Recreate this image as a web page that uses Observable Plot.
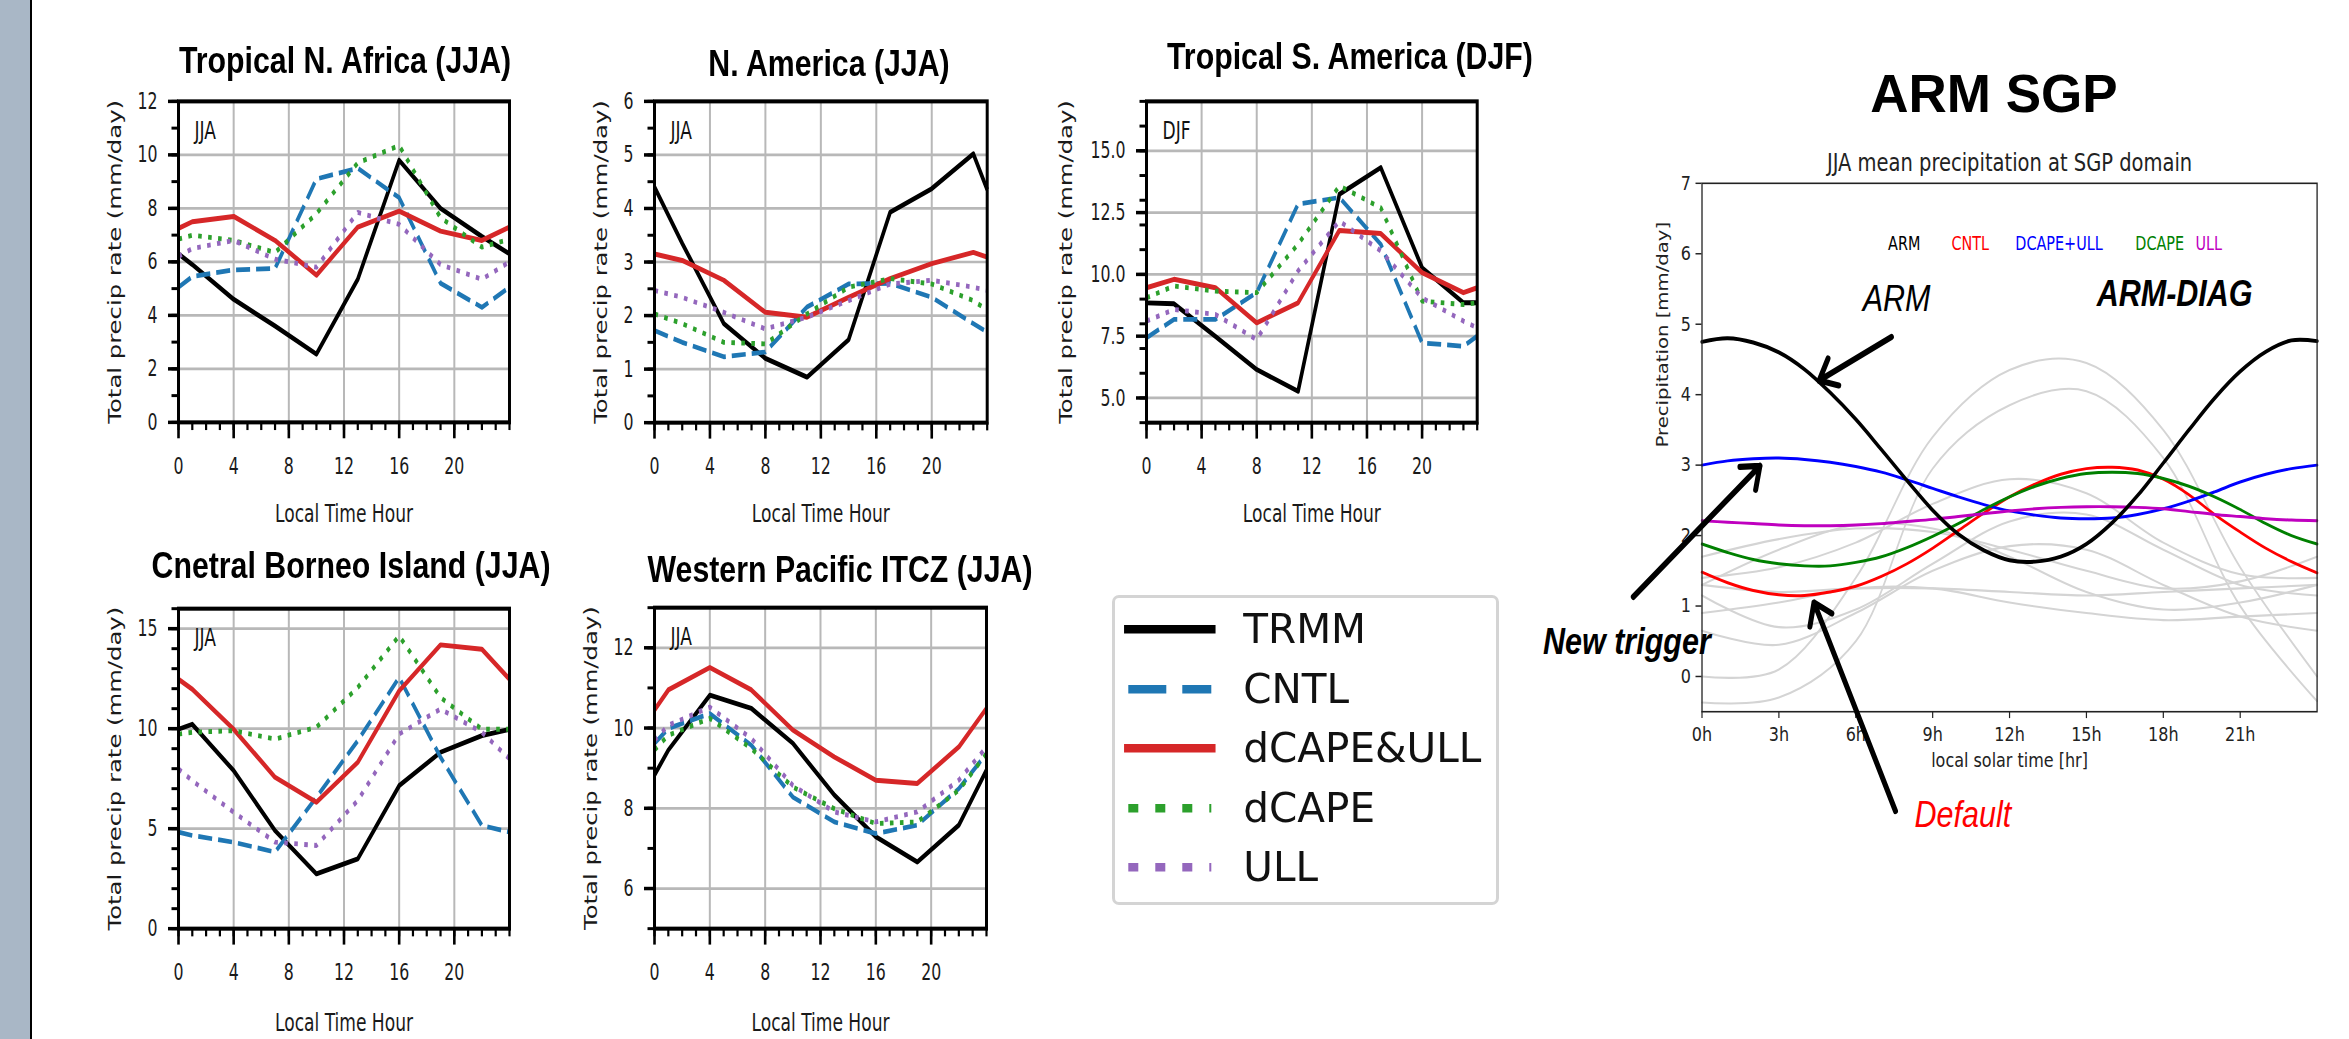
<!DOCTYPE html>
<html><head><meta charset="utf-8">
<script src="https://cdn.jsdelivr.net/npm/d3@7"></script>
<script src="https://cdn.jsdelivr.net/npm/@observablehq/plot@0.6"></script>
<style>
html,body{margin:0;padding:0;background:#fff;}
body{width:2349px;height:1039px;position:relative;overflow:hidden;font-family:"DejaVu Sans",sans-serif;}
.band{position:absolute;left:0;top:0;width:30px;height:1039px;background:#a9b7c6;border-right:2.5px solid #000;}
.title{position:absolute;font-family:"Liberation Sans",Arial,sans-serif;font-weight:bold;white-space:nowrap;color:#000;text-align:center;}
.panel{position:absolute;overflow:visible;}
.panel svg{transform-origin:0 0;}
.legend{position:absolute;background:#fff;border:3px solid #d4d4d4;border-radius:7px;filter:blur(0.5px);}
.legend .lab{position:absolute;font-family:"DejaVu Sans",sans-serif;font-size:40.5px;line-height:48px;color:#111;white-space:nowrap;}
</style></head><body>
<div class="band"></div>
<script>
// ---------------- DATA ----------------
const seriesNames = ["TRMM", "CNTL", "dCAPE&ULL", "dCAPE", "ULL"];
const hoursA = [0, 1, 4, 7, 10, 13, 16, 19, 22, 24];
const hoursB = [0, 2, 5, 8, 11, 14, 17, 20, 23, 24];
const xTicks = [0, 4, 8, 12, 16, 20];

const panelTitles = ["Tropical N. Africa (JJA)", "N. America (JJA)", "Tropical S. America (DJF)", "Cnetral Borneo Island (JJA)", "Western Pacific ITCZ (JJA)"];
const panelSeasons = ["JJA", "JJA", "DJF", "JJA", "JJA"];
const xLabel = "Local Time Hour";
const yLabel = "Total precip rate (mm/day)";

const africa = {
  "TRMM":      [6.3, 5.9, 4.6, 3.6, 2.55, 5.35, 9.8, 8.0, 6.95, 6.3],
  "CNTL":      [5.05, 5.45, 5.7, 5.75, 9.1, 9.5, 8.4, 5.2, 4.3, 5.05],
  "dCAPE&ULL": [7.25, 7.5, 7.7, 6.8, 5.5, 7.3, 7.9, 7.15, 6.8, 7.3],
  "dCAPE":     [6.85, 7.0, 6.8, 6.35, 7.8, 9.7, 10.35, 7.65, 6.55, 6.85],
  "ULL":       [6.2, 6.5, 6.8, 6.1, 5.8, 7.85, 7.4, 5.9, 5.35, 6.0]
};
const nAmerica = {
  "TRMM":      [4.4, 3.35, 1.85, 1.2, 0.85, 1.55, 3.93, 4.37, 5.02, 4.35],
  "CNTL":      [1.72, 1.5, 1.23, 1.32, 2.16, 2.59, 2.6, 2.34, 1.85, 1.69],
  "dCAPE&ULL": [3.15, 3.03, 2.66, 2.06, 1.97, 2.34, 2.69, 2.97, 3.18, 3.09],
  "dCAPE":     [2.03, 1.85, 1.5, 1.47, 2.03, 2.53, 2.69, 2.59, 2.28, 2.1],
  "ULL":       [2.47, 2.34, 2.06, 1.75, 1.97, 2.28, 2.59, 2.66, 2.53, 2.47]
};
const sAmerica = {
  "TRMM":      [8.85, 8.81, 7.49, 6.15, 5.27, 13.24, 14.32, 10.27, 8.85, 8.85],
  "CNTL":      [7.43, 8.18, 8.18, 9.26, 12.84, 13.11, 11.22, 7.23, 7.09, 7.5],
  "dCAPE&ULL": [9.46, 9.8, 9.46, 8.04, 8.85, 11.78, 11.65, 10.07, 9.26, 9.46],
  "dCAPE":     [9.05, 9.53, 9.32, 9.26, 11.22, 13.58, 12.7, 8.92, 8.78, 8.85],
  "ULL":       [8.11, 8.58, 8.38, 7.36, 10.14, 12.16, 10.95, 9.05, 8.11, 7.84]
};
const borneo = {
  "TRMM":      [9.97, 10.22, 7.9, 4.9, 2.74, 3.49, 7.15, 8.82, 9.65, 9.97],
  "CNTL":      [4.83, 4.66, 4.32, 3.83, 6.57, 9.4, 12.56, 8.57, 5.16, 4.83],
  "dCAPE&ULL": [12.47, 11.97, 9.97, 7.57, 6.32, 8.32, 11.89, 14.19, 13.97, 12.47],
  "dCAPE":     [9.73, 9.82, 9.9, 9.48, 10.07, 12.06, 14.64, 11.56, 9.97, 9.97],
  "ULL":       [7.99, 7.4, 5.82, 4.33, 4.16, 6.41, 9.73, 10.98, 9.82, 8.49]
};
const wPacific = {
  "TRMM":      [8.83, 9.45, 10.82, 10.49, 9.62, 8.33, 7.29, 6.66, 7.58, 8.95],
  "CNTL":      [9.62, 9.99, 10.36, 9.57, 8.28, 7.66, 7.37, 7.58, 8.49, 9.36],
  "dCAPE&ULL": [10.45, 10.95, 11.51, 10.95, 9.95, 9.28, 8.7, 8.62, 9.53, 10.49],
  "dCAPE":     [9.45, 9.82, 10.24, 9.49, 8.53, 7.99, 7.62, 7.66, 8.45, 9.36],
  "ULL":       [9.69, 10.07, 10.52, 9.74, 8.57, 7.91, 7.66, 7.91, 8.7, 9.53]
};
const yTicksAfrica = [0, 2, 4, 6, 8, 10, 12];
const yTicksNAm = [0, 1, 2, 3, 4, 5, 6];
const yTicksSAm = [5.0, 7.5, 10.0, 12.5, 15.0];
const yTicksBorneo = [0, 5, 10, 15];
const yTicksWPac = [6, 8, 10, 12];

// ARM SGP panel
const sgpTitle = "ARM SGP";
const sgpSubtitle = "JJA mean precipitation at SGP domain";
const sgpXLabel = "local solar time [hr]";
const sgpYLabel = "Precipitation [mm/day]";
const sgpHours = [0,1,2,3,4,5,6,7,8,9,10,11,12,13,14,15,16,17,18,19,20,21,22,23,24];
const sgpSeries = ["ARM", "CNTL", "DCAPE+ULL", "DCAPE", "ULL"];
const sgpARM   = [4.75, 4.80, 4.74, 4.60, 4.36, 4.03, 3.65, 3.22, 2.78, 2.36, 2.02, 1.79, 1.65, 1.63, 1.70, 1.88, 2.18, 2.57, 3.03, 3.50, 3.95, 4.33, 4.61, 4.77, 4.76];
const sgpCNTL  = [1.48, 1.33, 1.22, 1.16, 1.15, 1.20, 1.28, 1.42, 1.60, 1.82, 2.07, 2.32, 2.55, 2.73, 2.87, 2.95, 2.97, 2.93, 2.80, 2.58, 2.30, 2.05, 1.82, 1.63, 1.47];
const sgpDCULL = [3.00, 3.06, 3.09, 3.10, 3.08, 3.04, 2.98, 2.90, 2.79, 2.67, 2.55, 2.44, 2.35, 2.29, 2.25, 2.24, 2.25, 2.30, 2.38, 2.49, 2.62, 2.76, 2.87, 2.95, 3.00];
const sgpDCAPE = [1.88, 1.76, 1.66, 1.60, 1.57, 1.57, 1.62, 1.70, 1.83, 1.99, 2.17, 2.37, 2.55, 2.70, 2.81, 2.88, 2.90, 2.88, 2.81, 2.70, 2.55, 2.37, 2.17, 2.00, 1.88];
const sgpULL   = [2.21, 2.19, 2.17, 2.15, 2.14, 2.14, 2.15, 2.17, 2.20, 2.23, 2.27, 2.31, 2.35, 2.38, 2.40, 2.41, 2.41, 2.40, 2.38, 2.34, 2.30, 2.27, 2.24, 2.22, 2.21];
const diagHours = [0, 3, 6, 9, 12, 15, 18, 21, 24];
const diagModels = [
  [0.0, 0.1, 1.4, 3.4, 4.35, 4.45, 3.5, 1.55, 0.0],
  [-0.37, -0.3, 0.5, 2.95, 3.85, 4.05, 3.1, 1.0, -0.35],
  [1.4, 1.55, 1.9, 2.45, 2.8, 2.6, 1.9, 1.45, 1.4],
  [0.65, 0.45, 0.9, 1.5, 1.85, 1.8, 1.3, 0.85, 0.65],
  [1.3, 1.2, 1.25, 1.25, 1.2, 1.15, 1.2, 1.25, 1.3],
  [1.3, 1.8, 2.15, 2.1, 1.7, 1.2, 0.95, 1.05, 1.3],
  [0.9, 1.05, 1.25, 1.25, 1.05, 0.9, 0.8, 0.85, 0.9],
  [1.7, 1.95, 2.1, 2.05, 1.8, 1.5, 1.25, 1.35, 1.7],
  [1.15, 0.7, 0.95, 1.6, 2.2, 2.3, 1.8, 1.3, 1.15]
];
const sgpYTicks = [0, 1, 2, 3, 4, 5, 6, 7];
const sgpXTicks = [0, 3, 6, 9, 12, 15, 18, 21];
const sgpXTickLabels = ["0h", "3h", "6h", "9h", "12h", "15h", "18h", "21h"];

// ---------------- STYLES / LAYOUT ----------------
const seriesColors = ["#000000", "#1f77b4", "#d62728", "#2ca02c", "#9467bd"];
const seriesWidths = [3.6, 3.5, 3.7, 3.6, 3.6];
const seriesDash = [null, "14,6", null, "3.6,6.4", "3.6,6.4"];
const sgpColors = ["#000000", "#ff0000", "#0000ff", "#008000", "#bf00bf"];
const sgpWidths = [3.2, 2.4, 2.4, 2.4, 2.4];
const SY = 1.35, SY_SGP = 1.23;
const condensed = "'DejaVu Sans Condensed', 'DejaVu Sans', sans-serif";
const dejavu = "'DejaVu Sans', sans-serif";
const arial = "'Liberation Sans', Arial, sans-serif";

const panels = [
  {values: africa,   hours: hoursA, yDomain: [0, 12], yTicks: yTicksAfrica, yMinor: d3.range(0, 12.01, 1),  fmt: d => String(d), box: [90, 455, 93],   frame: [178, 509, 100.7, 421.7], labOff: 70, xlabDy: 60.4, titleAt: [345, 74]},
  {values: nAmerica, hours: hoursB, yDomain: [0, 6],  yTicks: yTicksNAm,    yMinor: d3.range(0, 6.01, 0.5),  fmt: d => String(d), box: [570, 440, 93],  frame: [654, 986.7, 100.7, 422], labOff: 60, xlabDy: 60.4, titleAt: [829, 76.7]},
  {values: sAmerica, hours: hoursB, yDomain: [4, 17], yTicks: yTicksSAm,    yMinor: d3.range(4, 17.01, 1),  fmt: d => d.toFixed(1), box: [1040, 460, 93], frame: [1146, 1476.7, 100.7, 422], labOff: 87, xlabDy: 60.4, titleAt: [1350, 69.3]},
  {values: borneo,   hours: hoursA, yDomain: [0, 16], yTicks: yTicksBorneo, yMinor: d3.range(0, 16.01, 1),  fmt: d => String(d), box: [90, 455, 600],  frame: [178, 509, 608, 928], labOff: 70, xlabDy: 62, titleAt: [351, 578.3]},
  {values: wPacific, hours: hoursA, yDomain: [5, 13], yTicks: yTicksWPac,   yMinor: d3.range(5, 13.01, 1),  fmt: d => String(d), box: [570, 440, 600], frame: [654, 986, 607, 928], labOff: 70, xlabDy: 62, titleAt: [840, 582.7]}
];

function addTitle(text, cx, baseline, size, sy) {
  const d = document.createElement("div");
  d.className = "title";
  const base = 0.8465 * size;
  d.style.cssText += `left:${cx - 400}px;width:800px;top:${baseline - base}px;font-size:${size}px;line-height:${size}px;transform:scaleY(${sy});transform-origin:50% ${base}px;`;
  d.textContent = text;
  document.body.appendChild(d);
}

function smallPanel(p, i) {
  const [bx, bw, clipTop] = p.box;
  const [fL, fR, fT, fB] = p.frame;
  const mL = fL - bx, mR = bw - (fR - bx);
  const mT = (fT - clipTop) / SY;
  const fh = (fB - fT) / SY;
  const mB = 84;
  const height = mT + fh + mB;
  const lines = seriesNames.map((name, k) => {
    const rows = p.hours.map((h, j) => ({hour: h, value: p.values[name][j], series: name}));
    return Plot.line(rows, {x: "hour", y: "value", stroke: seriesColors[k], strokeWidth: seriesWidths[k],
      strokeDasharray: seriesDash[k] || undefined, strokeLinecap: "butt", strokeLinejoin: "round"});
  });
  const svg = Plot.plot({
    width: bw, height, marginLeft: mL, marginRight: mR, marginTop: mT, marginBottom: mB,
    style: {background: "transparent", overflow: "visible"},
    x: {domain: [0, 24]}, y: {domain: p.yDomain},
    marks: [
      Plot.gridX({ticks: xTicks, stroke: "#b8b8b8", strokeOpacity: 1, strokeWidth: 2}),
      Plot.gridY({ticks: p.yTicks, stroke: "#b8b8b8", strokeOpacity: 1, strokeWidth: 2}),
      ...lines,
      Plot.frame({stroke: "#000", strokeWidth: 3}),
      Plot.axisX({ticks: d3.range(0, 24.01, 1), tickSize: 6.2, tickFormat: () => "", label: null, stroke: "#000", strokeWidth: 2.2}),
      Plot.axisX({ticks: xTicks, tickSize: 12.3, tickPadding: 13.6, tickFormat: d => String(d), label: null, stroke: "#000", strokeWidth: 2.6,
        fill: "#1a1a1a", fontSize: 17.5, fontFamily: condensed}),
      Plot.axisY({ticks: p.yMinor, tickSize: 6.5, tickFormat: () => "", label: null, stroke: "#000", strokeWidth: 2.2}),
      Plot.axisY({ticks: p.yTicks, tickSize: 10, tickPadding: 11, tickFormat: p.fmt, label: null, stroke: "#000", strokeWidth: 2.6,
        fill: "#1a1a1a", fontSize: 17.5, fontFamily: condensed}),
      Plot.text([panelSeasons[i]], {frameAnchor: "top-left", dx: 16, dy: 14.3, textAnchor: "start", lineAnchor: "top",
        fontSize: 19, fontFamily: condensed, fill: "#111"}),
      Plot.text([yLabel], {frameAnchor: "left", rotate: -90, dx: -p.labOff, lineAnchor: "top", textAnchor: "middle",
        fontSize: 18, fontFamily: dejavu, fill: "#1a1a1a"}),
      Plot.text([xLabel], {frameAnchor: "bottom", dy: p.xlabDy, lineAnchor: "top", textAnchor: "middle",
        fontSize: 19, fontFamily: condensed, fill: "#1a1a1a"})
    ]
  });
  svg.style.transform = `scaleY(${SY})`;
  svg.style.transformOrigin = "0 0";
  const box = document.createElement("div");
  box.className = "panel";
  box.style.cssText = `left:${bx}px;top:${clipTop}px;width:${bw}px;height:${height * SY}px;`;
  box.appendChild(svg);
  document.body.appendChild(box);
  addTitle(panelTitles[i], p.titleAt[0], p.titleAt[1], 30.3, 1.19);
}
panels.forEach(smallPanel);

// ---------------- Legend ----------------
(function legend() {
  const L = document.createElement("div");
  L.className = "legend";
  L.style.cssText += "left:1111.7px;top:595px;width:381.6px;height:304px;";
  const rowsY = [31.3, 91.3, 150.3, 210.3, 269.3];
  const ns = "http://www.w3.org/2000/svg";
  const s = document.createElementNS(ns, "svg");
  s.setAttribute("width", 120); s.setAttribute("height", 304);
  s.style.cssText = "position:absolute;left:0;top:0;";
  const legendDash = [null, "38,16", null, "10,17", "10,17"];
  seriesNames.forEach((name, k) => {
    const ln = document.createElementNS(ns, "line");
    ln.setAttribute("x1", 13.3); ln.setAttribute("x2", 96.3);
    ln.setAttribute("y1", rowsY[k]); ln.setAttribute("y2", rowsY[k]);
    ln.setAttribute("stroke", seriesColors[k]);
    ln.setAttribute("stroke-width", 8.5);
    if (legendDash[k]) { ln.setAttribute("stroke-dasharray", legendDash[k]); ln.setAttribute("stroke-linecap", "butt"); }
    else ln.setAttribute("stroke-linecap", "square");
    s.appendChild(ln);
    const t = document.createElement("div");
    t.className = "lab";
    t.style.cssText += `left:128.6px;top:${rowsY[k] - 24.5}px;`;
    t.textContent = name;
    L.appendChild(t);
  });
  L.appendChild(s);
  document.body.appendChild(L);
})();

// ---------------- ARM SGP ----------------
(function sgp() {
  const bx = 1540, bw = 809, top = 127;
  const fL = 1701.5, fR = 2316.6, fT = 182.7, fB = 711.1;
  const mL = fL - bx, mR = bw - (fR - bx);
  const mT = (fT - top) / SY_SGP, fh = (fB - fT) / SY_SGP, mB = 118.6;
  const height = mT + fh + mB;
  const sgpValues = [sgpARM, sgpCNTL, sgpDCULL, sgpDCAPE, sgpULL];
  const sgpNotes = [
    {text: "ARM", hour: 7.59, value: 5.19, style: "italic", weight: "normal", color: "#000"},
    {text: "ARM-DIAG", hour: 18.44, value: 5.26, style: "italic", weight: "bold", color: "#000"},
    {text: "New trigger", hour: -2.93, value: 0.32, style: "italic", weight: "bold", color: "#000"},
    {text: "Default", hour: 10.18, value: -2.13, style: "italic", weight: "normal", color: "#ff0000"}
  ];
  const sgpArrows = [
    {h1: 7.39, v1: 4.82, h2: 4.57, v2: 4.20},
    {h1: -2.68, v1: 1.13, h2: 2.26, v2: 2.99},
    {h1: 7.55, v1: -1.91, h2: 4.37, v2: 1.05}
  ];
  const legendAt = [7.89, 10.47, 13.93, 17.86, 19.77];
  const legendValue = 6.06;

  const grayLines = diagModels.map((m, k) => Plot.line(diagHours.map((h, j) => ({hour: h, value: m[j]})),
    {x: "hour", y: "value", stroke: "#d4d4d4", strokeWidth: 1.7, curve: "catmull-rom"}));
  const order = [1, 2, 3, 4, 0];
  const colorLines = order.map(k => Plot.line(sgpHours.map((h, j) => ({hour: h, value: sgpValues[k][j], series: sgpSeries[k]})),
    {x: "hour", y: "value", stroke: sgpColors[k], strokeWidth: sgpWidths[k], curve: "catmull-rom"}));
  const legendRows = sgpSeries.map((name, k) => ({name, hour: legendAt[k], value: legendValue, color: sgpColors[k]}));

  const svg = Plot.plot({
    width: bw, height, marginLeft: mL, marginRight: mR, marginTop: mT, marginBottom: mB,
    style: {background: "transparent", overflow: "visible"},
    x: {domain: [0, 24]}, y: {domain: [-0.5, 7]},
    marks: [
      ...grayLines,
      ...colorLines,
      Plot.frame({stroke: "#222", strokeWidth: 1.3}),
      Plot.axisX({ticks: sgpXTicks, tickSize: 5.7, tickPadding: 6.4, label: null, stroke: "#222", strokeWidth: 1.2,
        tickFormat: d => sgpXTickLabels[sgpXTicks.indexOf(d)], fill: "#222", fontSize: 16, fontFamily: dejavu}),
      Plot.axisY({ticks: sgpYTicks, tickSize: 6, tickPadding: 5, label: null, stroke: "#222", strokeWidth: 1.2,
        tickFormat: d => String(d), fill: "#222", fontSize: 16, fontFamily: dejavu}),
      Plot.text([sgpSubtitle], {frameAnchor: "top", dy: -9.7, lineAnchor: "bottom", fontSize: 19.5, fontFamily: dejavu, fill: "#222"}),
      Plot.text([sgpXLabel], {frameAnchor: "bottom", dy: 34, lineAnchor: "top", fontSize: 16, fontFamily: dejavu, fill: "#222"}),
      Plot.text([sgpYLabel], {frameAnchor: "left", rotate: -90, dx: -39.2, lineAnchor: "middle", fontSize: 16, fontFamily: dejavu, fill: "#222"}),
      Plot.text(legendRows, {x: "hour", y: "value", text: "name", fill: d => d.color, lineAnchor: "bottom", fontSize: 16, fontFamily: condensed}),
      Plot.arrow(sgpArrows, {x1: "h1", y1: "v1", x2: "h2", y2: "v2", stroke: "#000", strokeWidth: 5, headLength: 6, headAngle: 75}),
      ...sgpNotes.map(n => Plot.text([n], {x: "hour", y: "value", text: "text", fill: n.color, lineAnchor: "bottom",
        fontSize: 30.5, fontFamily: arial, fontStyle: n.style, fontWeight: n.weight}))
    ]
  });
  svg.style.transform = `scaleY(${SY_SGP})`;
  svg.style.transformOrigin = "0 0";
  const box = document.createElement("div");
  box.className = "panel";
  box.style.cssText = `left:${bx}px;top:${top}px;width:${bw}px;height:${height * SY_SGP}px;overflow:visible;`;
  box.appendChild(svg);
  document.body.appendChild(box);
  addTitle(sgpTitle, 1994, 111.9, 53, 1);
})();
</script>
</body></html>
